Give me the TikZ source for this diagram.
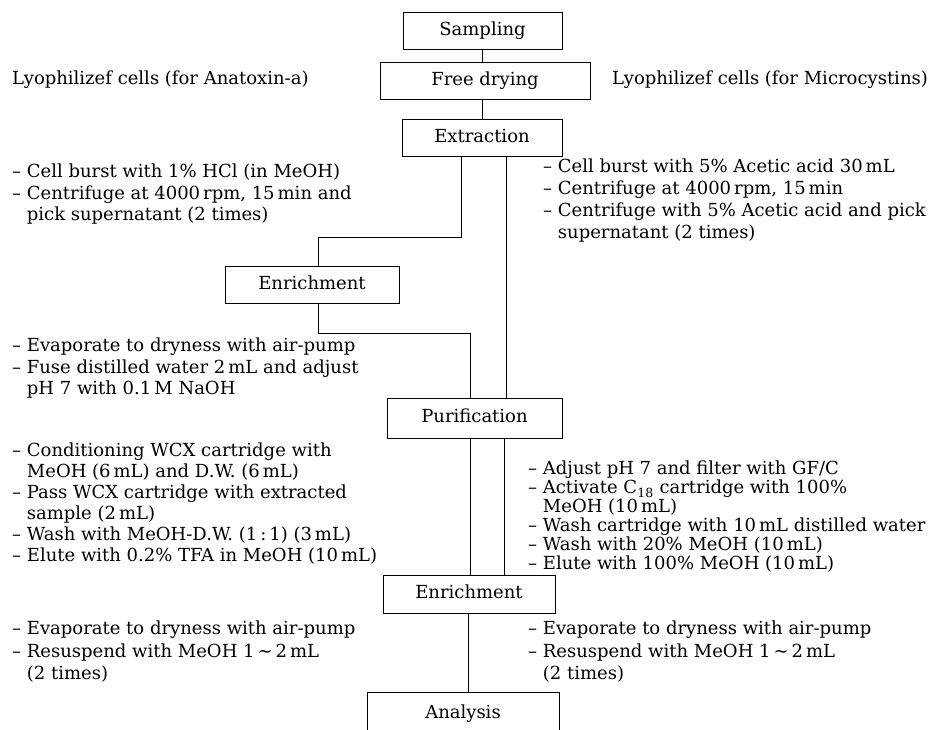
\documentclass[tikz,border=0pt]{standalone}
\usepackage{fontspec}
\setmainfont{DejaVu Serif}
\newcommand{\fs}{\fontsize{18}{21.5}\selectfont}
\newcommand{\dsh}{–\ }
\newcommand{\ind}{\phantom{–\ }}
\tikzset{
  box/.style={draw, line width=0.9pt, inner sep=0pt, minimum height=37pt,
    text height=13pt, text depth=3.5pt, font=\fs},
  txt/.style={anchor=north west, inner sep=0pt, align=left, font=\fs},
  conn/.style={draw, line width=0.9pt}
}
\begin{document}
\begin{tikzpicture}[x=1pt,y=-1pt]
\useasboundingbox (0,0) rectangle (930,729);
\clip (0,0) rectangle (930,729);
% boxes
\node[box, minimum width=159pt] (samp) at (482.5,30.5) {Sampling};
\node[box, minimum width=210pt] (dry) at (485,81) {Free drying};
\node[box, minimum width=160pt] (ext) at (482,138) {Extraction};
\node[box, minimum width=174pt] (enra) at (312,285) {Enrichment};
\node[box, minimum width=175pt, minimum height=40pt] (pur) at (474.5,418) {Purification};
\node[box, minimum width=172pt, minimum height=38pt] (enrb) at (469,594) {Enrichment};
\node[box, minimum width=192pt, minimum height=44pt] (ana) at (463,714) {Analysis};
% helper coordinates
\coordinate (ea) at (461,0);
\coordinate (eb) at (506,0);
\coordinate (ja) at (318,237);
\coordinate (jb) at (318,333);
\coordinate (pa) at (470,0);
\coordinate (pb) at (504,0);
\coordinate (ca) at (468,0);
\coordinate (sa) at (482,0);
% connectors
\draw[conn] (samp.south -| sa) -- (sa |- dry.north);
\draw[conn] (dry.south -| sa) -- (sa |- ext.north);
\draw[conn] (ext.south -| ea) |- (ja) -- (ja |- enra.north);
\draw[conn] (ja |- enra.south) -- (jb) -| (pa |- pur.north);
\draw[conn] (ext.south -| eb) -- (eb |- pur.north);
\draw[conn] (pur.south -| pa) -- (pa |- enrb.north);
\draw[conn] (pur.south -| pb) -- (pb |- enrb.north);
\draw[conn] (enrb.south -| ca) -- (ca |- ana.north);
% texts
\node[txt] (la) at (12,71) {Lyophilizef cells (for Anatoxin-a)};
\node[txt] (ra) at (612,71) {Lyophilizef cells (for Microcystins)};
\node[txt] (lb) at (12,164) {\dsh Cell burst with 1\% HCl (in MeOH)\\
\dsh Centrifuge at 4000\,rpm, 15\,min and\\
\ind pick supernatant (2 times)};
\node[txt, font=\fontsize{18}{22}\selectfont] (rb) at (543,159) {\dsh Cell burst with 5\% Acetic acid 30\,mL\\
\dsh Centrifuge at 4000\,rpm, 15\,min\\
\dsh Centrifuge with 5\% Acetic acid and pick\\
\ind supernatant (2 times)};
\node[txt] (lc) at (12,338) {\dsh Evaporate to dryness with air-pump\\
\dsh Fuse distilled water 2\,mL and adjust\\
\ind pH 7 with 0.1\,M NaOH};
\node[txt, font=\fontsize{18}{21}\selectfont] (ld) at (12,443) {\dsh Conditioning WCX cartridge with\\
\ind MeOH (6\,mL) and D.W. (6\,mL)\\
\dsh Pass WCX cartridge with extracted\\
\ind sample (2\,mL)\\
\dsh Wash with MeOH-D.W. (1\,:\,1) (3\,mL)\\
\dsh Elute with 0.2\% TFA in MeOH (10\,mL)};
\node[txt, font=\fontsize{18}{19}\selectfont] (rd) at (528,461) {\dsh Adjust pH 7 and filter with GF/C\\
\dsh Activate C\textsubscript{18} cartridge with 100\%\\
\ind MeOH (10\,mL)\\
\dsh Wash cartridge with 10\,mL distilled water\\
\dsh Wash with 20\% MeOH (10\,mL)\\
\dsh Elute with 100\% MeOH (10\,mL)};
\node[txt, font=\fontsize{18}{22.5}\selectfont] (le) at (12,621) {\dsh Evaporate to dryness with air-pump\\
\dsh Resuspend with MeOH 1\,\textasciitilde\,2\,mL\\
\ind (2 times)};
\node[txt, font=\fontsize{18}{22.5}\selectfont] (re) at (528,621) {\dsh Evaporate to dryness with air-pump\\
\dsh Resuspend with MeOH 1\,\textasciitilde\,2\,mL\\
\ind (2 times)};
\end{tikzpicture}
\end{document}
